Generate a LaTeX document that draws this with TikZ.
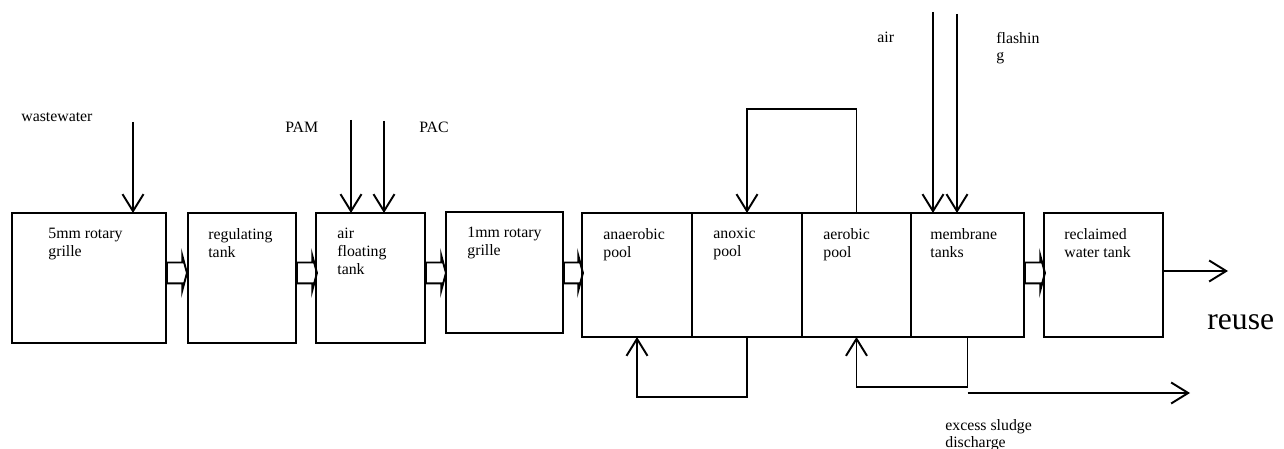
\documentclass[tikz,border=0pt]{standalone}
\usepackage{fontspec}
\setmainfont{Liberation Serif}
\usetikzlibrary{arrows.meta,positioning,shapes.arrows}
\tikzset{
tank/.style={rectangle, draw, line width=1.1pt, outer sep=0pt, minimum height=2.6cm, anchor=north west},
pool/.style={tank, minimum height=2.48cm},
tank_text/.style={align=left, inner sep=0pt, font=\fontsize{9}{10.2}\selectfont, anchor=north west},
side_text/.style={align=left, inner sep=0pt, font=\fontsize{9}{10.2}\selectfont, anchor=base west},
feed/.style={line width=1.1pt, -{Straight Barb[length=0.34cm,width=0.42cm]}},
flow_arrow/.style={single arrow, draw, line width=1.1pt, single arrow tip angle=150, single arrow head extend=0.14cm, inner xsep=0pt, inner ysep=0.19cm, minimum height=0.4cm, anchor=tail}
}

\begin{document}
\begin{tikzpicture}
    \useasboundingbox (0,0) rectangle (25.68,8.98);
    \coordinate (flow_level) at (0,3.52);
    \node[tank, minimum width=3.08cm] (grille_5mm) at (0.24,4.72) {};
    \node[tank, minimum width=2.16cm] (regulating) [right=0.44cm of grille_5mm.north east, anchor=north west] {};
    \node[tank, minimum width=2.18cm] (air_floating) [right=0.4cm of regulating.north east, anchor=north west] {};
    \node[tank, minimum width=2.34cm, minimum height=2.42cm] (grille_1mm) [right=0.42cm of air_floating.north east, anchor=north west, yshift=0.02cm] {};
    \node[pool, minimum width=2.2cm] (anaerobic_pool) at (11.64,4.72) {};
    \node[pool, minimum width=2.2cm] (anoxic_pool) [right=0 of anaerobic_pool.north east, anchor=north west] {};
    \node[pool, minimum width=2.18cm] (aerobic_pool) [right=0 of anoxic_pool.north east, anchor=north west] {};
    \node[pool, minimum width=2.26cm] (membrane_tank) [right=0 of aerobic_pool.north east, anchor=north west] {};
    \node[pool, minimum width=2.38cm] (reclaimed_tank) [right=0.4cm of membrane_tank.north east, anchor=north west] {};

    \node[tank_text] (grille_5mm_text) [below right=0.3cm and 0.72cm of grille_5mm.north west] {5mm rotary\\grille};
    \node[tank_text] (regulating_text) [below right=0.3cm and 0.4cm of regulating.north west] {regulating\\tank};
    \node[tank_text] (air_floating_text) [below right=0.3cm and 0.42cm of air_floating.north west] {air\\floating\\tank};
    \node[tank_text] (grille_1mm_text) [below right=0.3cm and 0.42cm of grille_1mm.north west] {1mm rotary\\grille};
    \node[tank_text] (anaerobic_text) [below right=0.3cm and 0.42cm of anaerobic_pool.north west] {anaerobic\\pool};
    \node[tank_text] (anoxic_text) [below right=0.3cm and 0.42cm of anoxic_pool.north west] {anoxic\\pool};
    \node[tank_text] (aerobic_text) [below right=0.3cm and 0.42cm of aerobic_pool.north west] {aerobic\\pool};
    \node[tank_text] (membrane_text) [below right=0.3cm and 0.38cm of membrane_tank.north west] {membrane\\tanks};
    \node[tank_text] (reclaimed_text) [below right=0.3cm and 0.4cm of reclaimed_tank.north west] {reclaimed\\water tank};

    \node[flow_arrow] (flow_1) at (grille_5mm.east |- flow_level) {};
    \node[flow_arrow] (flow_2) at (regulating.east |- flow_level) {};
    \node[flow_arrow] (flow_3) at (air_floating.east |- flow_level) {};
    \node[flow_arrow, minimum height=0.38cm] (flow_4) at (grille_1mm.east |- flow_level) {};
    \node[flow_arrow] (flow_5) at (membrane_tank.east |- flow_level) {};

    \node[side_text] (wastewater_label) at (0.42,6.54) {wastewater};
    \node[side_text] (pam_label) at (5.7,6.32) {PAM};
    \node[side_text] (pac_label) at (8.38,6.32) {PAC};
    \node[side_text] (air_label) at (17.54,8.12) {air};
    \node[side_text] (flashing_label) at (19.92,7.76) {flashin\\g};
    \node[side_text] (sludge_label) at (18.9,0.02) {excess sludge\\discharge};
    \node[side_text, font=\fontsize{18}{20}\selectfont] (reuse_label) at (24.14,2.38) {reuse};

    \coordinate (wastewater_in) at (2.66,6.54);
    \coordinate (pam_in) at (7.02,6.58);
    \coordinate (pac_in) at (7.68,6.56);
    \coordinate (air_in) at (18.66,8.74);
    \coordinate (flashing_in) at (19.14,8.7);
    \coordinate (sludge_out) at (23.8,1.12);
    \coordinate (reuse_out) at (24.56,3.56);

    \draw[feed] (wastewater_in) -- (wastewater_in |- grille_5mm.north);
    \draw[feed] (pam_in) -- (pam_in |- air_floating.north);
    \draw[feed] (pac_in) -- (pac_in |- air_floating.north);
    \draw[feed] (air_in) -- (air_in |- membrane_tank.north);
    \draw[feed] (flashing_in) -- (flashing_in |- membrane_tank.north);
    \draw[feed] (aerobic_pool.north) -- ++(0,2.08) -| (anoxic_pool.north);
    \draw[feed] (anoxic_pool.south) -- ++(0,-1.2) -| (anaerobic_pool.south);
    \draw[feed] (membrane_tank.south) -- ++(0,-1.0) -| (aerobic_pool.south);
    \draw[feed] (membrane_tank.south |- sludge_out) -- (sludge_out);
    \draw[feed] (reclaimed_tank.east |- reuse_out) -- (reuse_out);
\end{tikzpicture}
\end{document}
